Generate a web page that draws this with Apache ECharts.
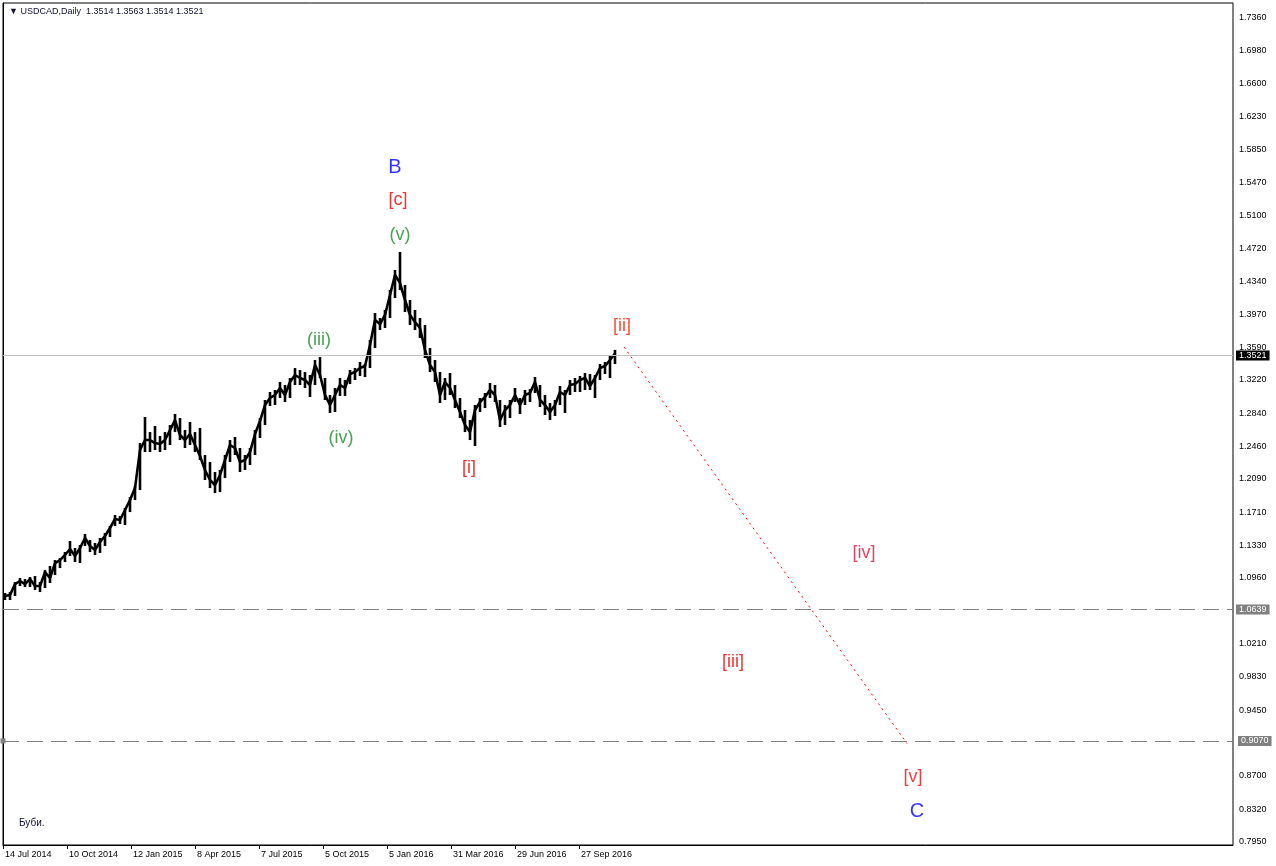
<!DOCTYPE html>
<html>
<head>
<meta charset="utf-8">
<script src="https://cdn.jsdelivr.net/npm/echarts@6/dist/echarts.min.js"></script>
<style>
html,body{margin:0;padding:0;background:#fff;}
#c{width:1276px;height:866px;}
</style>
</head>
<body>
<div id="c"></div>
<script>
// ---- data (weekly aggregation of the daily USDCAD bars) ----
const weekHigh = [1.0788,1.0799,1.0913,1.0959,1.0947,1.0970,1.0982,1.0913,1.1050,1.1096,
1.1164,1.1187,1.1256,1.1382,1.1302,1.1336,1.1461,1.1393,1.1359,1.1416,
1.1473,1.1553,1.1678,1.1667,1.1758,1.1883,1.2009,1.2500,1.2797,1.2625,
1.2694,1.2580,1.2625,1.2705,1.2831,1.2785,1.2648,1.2740,1.2625,1.2671,
1.2363,1.2283,1.2169,1.2192,1.2363,1.2534,1.2568,1.2443,1.2363,1.2443,
1.2648,1.2785,1.2991,1.3082,1.3105,1.3196,1.3162,1.3242,1.3356,1.3333,
1.3310,1.3276,1.3447,1.3481,1.3242,1.3048,1.3128,1.3242,1.3219,1.3333,
1.3356,1.3424,1.3402,1.3676,1.3984,1.3927,1.4018,1.4246,1.4475,1.4680,
1.4303,1.4132,1.4018,1.3927,1.3847,1.3584,1.3447,1.3310,1.3242,1.3299,
1.3162,1.3014,1.2877,1.2762,1.2934,1.3014,1.3071,1.3185,1.3162,1.2991,
1.2934,1.2991,1.3128,1.3014,1.3105,1.3116,1.3253,1.3162,1.3048,1.2957,
1.2991,1.3151,1.3105,1.3219,1.3242,1.3265,1.3299,1.3287,1.3276,1.3402,
1.3424,1.3504,1.3563];
const weekLow = [1.0708,1.0708,1.0754,1.0868,1.0856,1.0856,1.0822,1.0799,1.0845,1.0902,
1.0993,1.1073,1.1142,1.1210,1.1142,1.1130,1.1325,1.1256,1.1222,1.1245,
1.1325,1.1427,1.1553,1.1576,1.1564,1.1712,1.1849,1.1963,1.2397,1.2397,
1.2420,1.2397,1.2420,1.2477,1.2625,1.2534,1.2443,1.2477,1.2397,1.2306,
1.2078,1.1986,1.1929,1.1940,1.2100,1.2283,1.2363,1.2169,1.2192,1.2249,
1.2363,1.2557,1.2705,1.2922,1.2934,1.3014,1.2968,1.3014,1.3162,1.3162,
1.3128,1.3025,1.3162,1.3242,1.2991,1.2843,1.2854,1.3037,1.3037,1.3173,
1.3219,1.3265,1.3253,1.3356,1.3584,1.3790,1.3813,1.3927,1.4155,1.4246,
1.3995,1.3847,1.3790,1.3699,1.3470,1.3310,1.3196,1.2957,1.2991,1.3048,
1.2899,1.2785,1.2625,1.2534,1.2466,1.2854,1.2899,1.3014,1.2968,1.2683,
1.2705,1.2785,1.2968,1.2831,1.2934,1.2968,1.3071,1.2911,1.2820,1.2762,
1.2808,1.2934,1.2843,1.3048,1.3082,1.3082,1.3105,1.3105,1.3014,1.3219,
1.3287,1.3242,1.3402];
const weekClose = [1.0754,1.0765,1.0890,1.0925,1.0890,1.0947,1.0868,1.0868,1.1027,1.0959,
1.1130,1.1164,1.1222,1.1290,1.1210,1.1302,1.1416,1.1325,1.1279,1.1370,
1.1439,1.1530,1.1633,1.1621,1.1735,1.1849,1.1986,1.2420,1.2534,1.2534,
1.2500,1.2488,1.2534,1.2648,1.2762,1.2591,1.2534,1.2603,1.2477,1.2352,
1.2192,1.2078,1.2021,1.2135,1.2306,1.2477,1.2443,1.2283,1.2306,1.2397,
1.2603,1.2751,1.2934,1.3014,1.3048,1.3128,1.3048,1.3196,1.3276,1.3242,
1.3219,1.3162,1.3390,1.3276,1.3048,1.2934,1.3048,1.3162,1.3128,1.3287,
1.3310,1.3356,1.3379,1.3618,1.3904,1.3858,1.3961,1.4189,1.4417,1.4326,
1.4132,1.3961,1.3881,1.3813,1.3561,1.3390,1.3310,1.3048,1.3196,1.3128,
1.2991,1.2854,1.2705,1.2625,1.2877,1.2968,1.3025,1.3105,1.3048,1.2762,
1.2877,1.2934,1.3048,1.2934,1.3048,1.3071,1.3196,1.2991,1.2934,1.2854,
1.2934,1.3082,1.3048,1.3162,1.3173,1.3219,1.3242,1.3151,1.3242,1.3356,
1.3379,1.3447,1.3521];

const barsPerWeek = 5;          // daily bars per weekly sample
const totalBars = 1230;         // bar slots visible on the chart

const dateLabels = ['14 Jul 2014','10 Oct 2014','12 Jan 2015','8 Apr 2015','7 Jul 2015','5 Oct 2015','5 Jan 2016','31 Mar 2016','29 Jun 2016','27 Sep 2016'];
const dateTickBars = [0,64,128,192,256,320,384,448,512,576];

const priceLabels = ['1.7360','1.6980','1.6600','1.6230','1.5850','1.5470','1.5100','1.4720','1.4340','1.3970','1.3590','1.3220','1.2840','1.2460','1.2090','1.1710','1.1330','1.0960','1.0580','1.0210','0.9830','0.9450','0.9070','0.8700','0.8320','0.7950'];

const bidPrice = 1.3521;
const levelPrices = [1.0639, 0.9070];

const forecastBars = [621, 904];
const forecastPrices = [1.3596, 0.9070];

const waveText  = ['B','[c]','(v)','(iii)','(iv)','[i]','[ii]','[iv]','[iii]','[v]','C'];
const waveBar   = [392, 395, 397, 316, 338, 466, 619, 861, 730, 910, 914];
const wavePrice = [1.5650,1.5273,1.4874,1.3676,1.2557,1.2215,1.3835,1.1245,1.0001,0.8688,0.8289];

// ---- styles ----
const waveColor = ['#0000ff','#ee0000','#1a8a2a','#1a8a2a','#1a8a2a','#ee0000','#ff2200','#dc143c','#ee0000','#e01010','#0000ff'];
const waveSize  = [20,18,18,18,18,18,18,18,18,18,20];
const FONT = 'Liberation Sans, Arial, sans-serif';

const hlData = weekHigh.map((h, k) => [k * barsPerWeek + 2, weekLow[k], h]);
const closeData = weekClose.map((c, k) => [k * barsPerWeek + 2, c]);
const waveData = waveText.map((t, i) => ({
  name: t, value: [waveBar[i], wavePrice[i]],
  label: { color: waveColor[i], fontSize: waveSize[i] }
}));
const priceTickValues = priceLabels.map(Number);

const chart = echarts.init(document.getElementById('c'), null, { renderer: 'canvas' });
chart.setOption({
  animation: false,
  backgroundColor: '#fff',
  title: [
    { text: '\u25BC USDCAD,Daily  1.3514 1.3563 1.3514 1.3521', left: 4, top: 2,
      textStyle: { fontFamily: FONT, fontSize: 9, fontWeight: 'normal', color: '#111133' } },
    { text: 'Буби.', left: 14, top: 813,
      textStyle: { fontFamily: FONT, fontSize: 10, fontWeight: 'normal', color: '#111133' } }
  ],
  grid: { left: 3, right: 43, top: 3, bottom: 21, show: true, borderColor: '#000', borderWidth: 1, backgroundColor: '#fff' },
  xAxis: {
    type: 'value', min: 0, max: totalBars,
    axisLine: { show: true, lineStyle: { color: '#000' } },
    axisTick: { show: true, length: 4, customValues: dateTickBars, lineStyle: { color: '#000' } },
    axisLabel: {
      customValues: dateTickBars, align: 'left', margin: 5, padding: [0,0,0,2],
      fontFamily: FONT, fontSize: 9, color: '#000',
      formatter: v => { const i = dateTickBars.indexOf(Math.round(v)); return i >= 0 ? dateLabels[i] : ''; }
    },
    splitLine: { show: false }
  },
  yAxis: {
    type: 'value', position: 'right', min: 0.7912, max: 1.7522,
    axisLine: { show: true, lineStyle: { color: '#000' } },
    axisTick: { show: false },
    minorTick: { show: false },
    axisLabel: {
      customValues: priceTickValues, margin: 6,
      fontFamily: FONT, fontSize: 9, color: '#000',
      formatter: v => v.toFixed(4)
    },
    splitLine: { show: false }
  },
  series: [
    {
      type: 'custom', z: 3,
      data: hlData,
      encode: { x: 0, y: [1, 2] },
      renderItem: (params, api) => {
        const lo = api.coord([api.value(0), api.value(1)]);
        const hi = api.coord([api.value(0), api.value(2)]);
        return { type: 'line', shape: { x1: lo[0], y1: lo[1], x2: hi[0], y2: hi[1] },
                 style: { stroke: '#000', lineWidth: 2.6 } };
      }
    },
    {
      type: 'line', z: 3, data: closeData, showSymbol: false, symbol: 'none',
      lineStyle: { color: '#000', width: 2.6 },
      markLine: {
        silent: true, symbol: 'none', animation: false,
        data: [
          { yAxis: bidPrice, lineStyle: { color: '#c0c0c0', type: 'solid', width: 1 },
            label: { show: true, position: 'end', distance: 3, formatter: bidPrice.toFixed(4),
                     backgroundColor: '#000', color: '#fff', padding: [1, 3, 0, 3], fontFamily: FONT, fontSize: 9 } },
          { yAxis: levelPrices[0], lineStyle: { color: '#808080', type: [16, 8], width: 1 },
            label: { show: true, position: 'end', distance: 3, formatter: levelPrices[0].toFixed(4),
                     backgroundColor: '#808080', color: '#fff', padding: [1, 3, 0, 3], fontFamily: FONT, fontSize: 9 } },
          { yAxis: levelPrices[1], symbol: ['emptyRect', 'emptyRect'], symbolSize: 5,
            lineStyle: { color: '#808080', type: [16, 8], width: 1 },
            label: { show: true, position: 'end', distance: 5, formatter: levelPrices[1].toFixed(4),
                     backgroundColor: '#808080', color: '#fff', padding: [1, 3, 0, 3], fontFamily: FONT, fontSize: 9 } }
        ]
      }
    },
    {
      type: 'line', z: 4, data: forecastBars.map((b, i) => [b, forecastPrices[i]]),
      showSymbol: false, symbol: 'none',
      lineStyle: { color: '#ff0000', width: 1, type: [2, 4] }
    },
    {
      type: 'scatter', z: 5, symbolSize: 0, data: waveData,
      label: { show: true, position: 'inside', formatter: '{b}', fontFamily: FONT }
    }
  ]
});
</script>
</body>
</html>
